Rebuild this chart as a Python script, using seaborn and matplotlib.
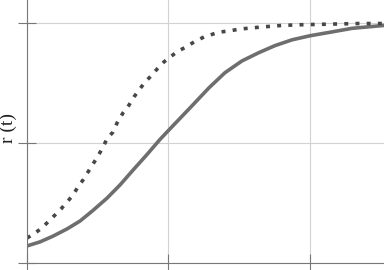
import matplotlib
matplotlib.use('Agg')
import matplotlib.pyplot as plt
import seaborn as sns
import numpy as np

# solid curve
t_solid = [0.0, 0.092, 0.184, 0.283, 0.375, 0.466, 0.565, 0.657, 0.749, 0.848,
           0.940, 0.996, 1.166, 1.286, 1.399, 1.519, 1.640, 1.753, 1.873, 2.0,
           2.155, 2.297, 2.523]
r_solid = [0.071, 0.088, 0.112, 0.142, 0.175, 0.219, 0.270, 0.325, 0.387, 0.452,
           0.515, 0.550, 0.655, 0.730, 0.793, 0.842, 0.877, 0.906, 0.930, 0.947,
           0.963, 0.978, 0.990]

# dotted curve
t_dot = [0.0, 0.057, 0.106, 0.148, 0.198, 0.240, 0.283, 0.325, 0.360, 0.396,
         0.431, 0.466, 0.502, 0.537, 0.565, 0.608, 0.636, 0.678, 0.721, 0.756,
         0.792, 0.834, 0.876, 0.919, 0.968, 1.011, 1.067, 1.124, 1.180, 1.251,
         1.357, 1.428, 1.505, 1.647, 1.802, 1.943, 2.106, 2.346, 2.523]
r_dot = [0.104, 0.125, 0.146, 0.171, 0.200, 0.225, 0.254, 0.283, 0.317, 0.346,
         0.379, 0.412, 0.446, 0.483, 0.517, 0.546, 0.583, 0.625, 0.658, 0.692,
         0.721, 0.754, 0.779, 0.808, 0.838, 0.858, 0.883, 0.900, 0.921, 0.942,
         0.962, 0.967, 0.975, 0.983, 0.990, 0.993, 0.995, 0.998, 0.998]

x_ticks = [0, 1, 2]
y_ticks = [0, 0.5, 1]

sns.set_style('whitegrid')

fig = plt.figure(figsize=(3.84, 2.7), dpi=100)
ax = fig.add_axes([27 / 384, 7 / 270, 357 / 384, 263 / 270])

sns.lineplot(x=t_solid, y=r_solid, ax=ax, color='#6e6e6e', linewidth=2.6)
sns.lineplot(x=t_dot, y=r_dot, ax=ax, color='#474747', linewidth=2.6,
             linestyle=(0, (1.1, 2.0)))

ax.set_xlim(0, 2.523)
ax.set_ylim(0, 1.096)
ax.set_xticks(x_ticks)
ax.set_yticks(y_ticks)
ax.set_xticklabels([])
ax.set_yticklabels([])
ax.grid(True, color='#d2d2d2', linewidth=0.8)
ax.tick_params(direction='inout', length=13, width=0.8, color='#777777',
               bottom=True, left=True)

for side in ['top', 'right']:
    ax.spines[side].set_visible(False)
for side in ['left', 'bottom']:
    ax.spines[side].set_color('#777777')
    ax.spines[side].set_linewidth(0.8)

ax.set_ylabel('r (t)', family=['Liberation Serif', 'DejaVu Serif'],
              fontsize=14, color='#222222')
ax.yaxis.set_label_coords(-0.028, 0.513)

fig.savefig('out.png', dpi=100)
